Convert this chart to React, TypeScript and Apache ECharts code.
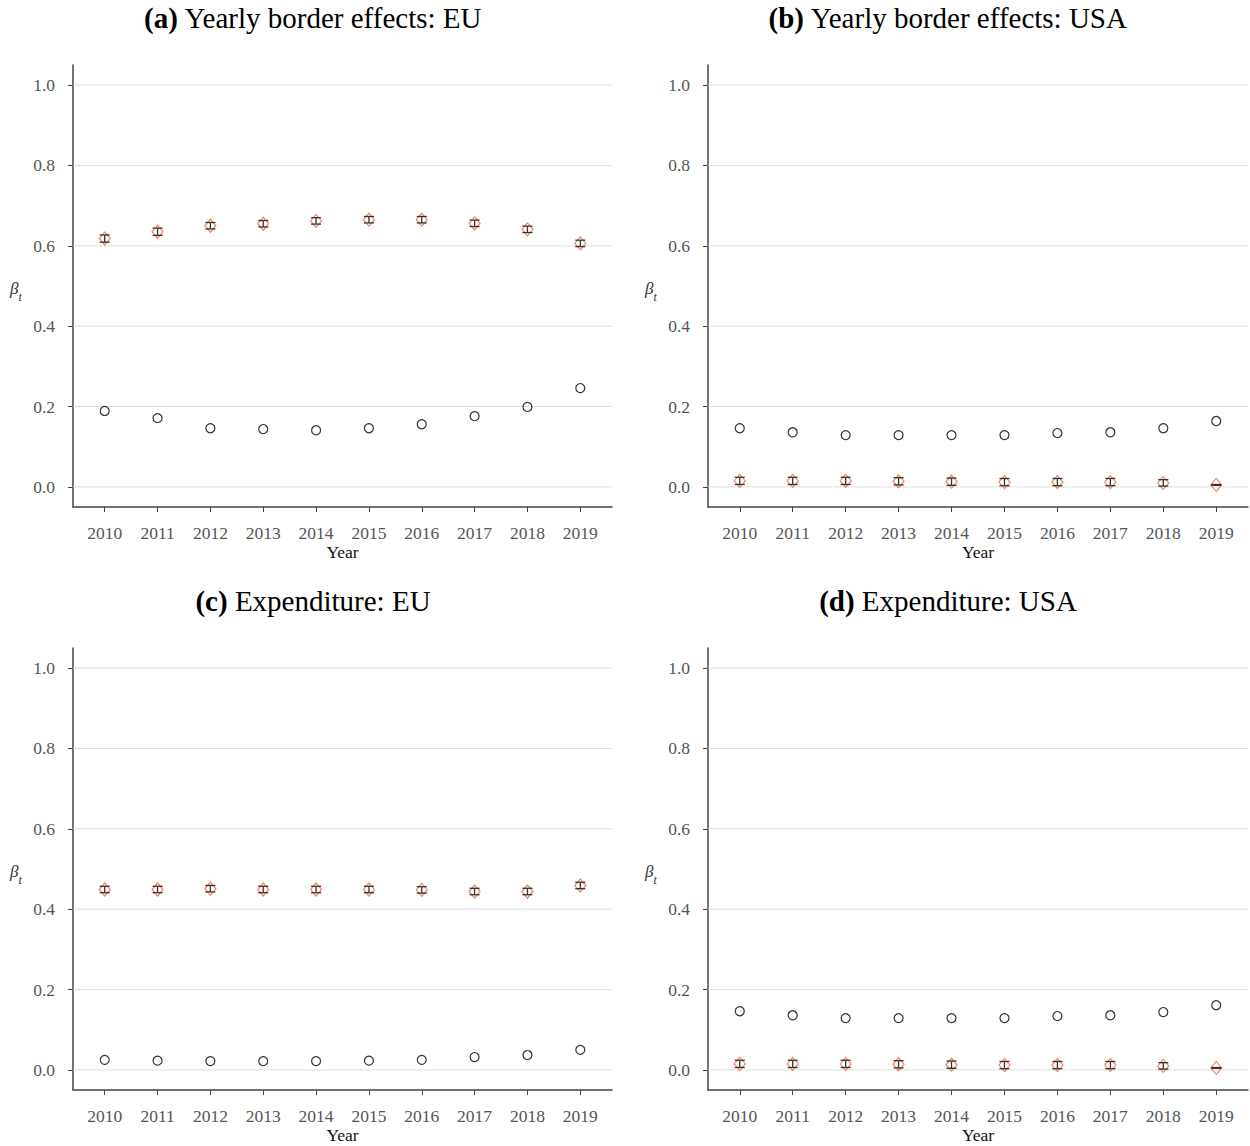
import React, { useEffect, useRef } from "react";
import * as echarts from "echarts";

const years = [2010, 2011, 2012, 2013, 2014, 2015, 2016, 2017, 2018, 2019];
const yTicks = [0, 0.2, 0.4, 0.6, 0.8, 1.0];

// (a) Yearly border effects: EU
const euBorderCircle = [0.189, 0.171, 0.146, 0.144, 0.141, 0.146, 0.156, 0.176, 0.199, 0.246];
const euBorderDiamond = [0.618, 0.635, 0.65, 0.655, 0.662, 0.665, 0.665, 0.656, 0.641, 0.606];
const euBorderErr = [0.009, 0.009, 0.008, 0.008, 0.008, 0.008, 0.008, 0.008, 0.008, 0.008];

// (b) Yearly border effects: USA
const usaBorderCircle = [0.146, 0.136, 0.129, 0.129, 0.129, 0.129, 0.134, 0.136, 0.146, 0.164];
const usaBorderDiamond = [0.015, 0.015, 0.015, 0.014, 0.013, 0.012, 0.012, 0.012, 0.01, 0.005];
const usaBorderErr = [0.009, 0.009, 0.009, 0.009, 0.009, 0.009, 0.009, 0.009, 0.008, 0.001];

// (c) Expenditure: EU
const euExpCircle = [0.025, 0.023, 0.022, 0.022, 0.022, 0.023, 0.025, 0.032, 0.037, 0.05];
const euExpDiamond = [0.449, 0.449, 0.451, 0.449, 0.449, 0.449, 0.448, 0.444, 0.444, 0.459];
const euExpErr = [0.008, 0.008, 0.008, 0.008, 0.008, 0.008, 0.008, 0.008, 0.008, 0.008];

// (d) Expenditure: USA
const usaExpCircle = [0.146, 0.136, 0.129, 0.129, 0.129, 0.129, 0.134, 0.136, 0.144, 0.161];
const usaExpDiamond = [0.015, 0.015, 0.015, 0.014, 0.013, 0.012, 0.012, 0.012, 0.01, 0.005];
const usaExpErr = [0.009, 0.009, 0.009, 0.009, 0.009, 0.009, 0.009, 0.009, 0.008, 0.001];

const panelTitles = [
  ["(a)", " Yearly border effects: EU"],
  ["(b)", " Yearly border effects: USA"],
  ["(c)", " Expenditure: EU"],
  ["(d)", " Expenditure: USA"],
];

const panelData = [
  [euBorderCircle, euBorderDiamond, euBorderErr],
  [usaBorderCircle, usaBorderDiamond, usaBorderErr],
  [euExpCircle, euExpDiamond, euExpErr],
  [usaExpCircle, usaExpDiamond, usaExpErr],
];

const FONT = "'Liberation Serif', 'Times New Roman', serif";

export default function App() {
  const ref = useRef<HTMLDivElement>(null);
  useEffect(() => {
    if (!ref.current) return;
    const chart = echarts.init(ref.current, null, { renderer: "svg" });

    const layout = [
      { left: 73, top: 65, width: 539, height: 442, tx: 313, ty: 18 },
      { left: 708, top: 65, width: 540, height: 442, tx: 948, ty: 18 },
      { left: 73, top: 648, width: 539, height: 442, tx: 313, ty: 601 },
      { left: 708, top: 648, width: 540, height: 442, tx: 948, ty: 601 },
    ];

    const grids: any[] = [];
    const xAxes: any[] = [];
    const yAxes: any[] = [];
    const series: any[] = [];
    const graphics: any[] = [];

    layout.forEach((g, i) => {
      grids.push({
        left: g.left,
        top: g.top,
        width: g.width,
        height: g.height,
        containLabel: false,
        outerBoundsMode: "none",
      });
      xAxes.push({
        gridIndex: i,
        type: "value",
        min: 2009.4,
        max: 2019.6,
        name: "Year",
        nameLocation: "middle",
        nameGap: 36,
        nameTextStyle: { fontFamily: FONT, fontSize: 17.5, color: "#111" },
        axisLine: { show: true, onZero: false, lineStyle: { color: "#444", width: 1.5 } },
        axisTick: { show: true, customValues: years, length: 5, lineStyle: { color: "#444", width: 1 } },
        axisLabel: {
          customValues: years,
          margin: 17,
          fontFamily: FONT,
          fontSize: 17.5,
          color: "#555",
          formatter: (v: number) => String(Math.round(v)),
        },
        splitLine: { show: false },
      });
      yAxes.push({
        gridIndex: i,
        type: "value",
        min: -0.05,
        max: 1.05,
        axisLine: { show: true, onZero: false, lineStyle: { color: "#444", width: 1.5 } },
        axisTick: { show: true, customValues: yTicks, length: 5, lineStyle: { color: "#444", width: 1 } },
        axisLabel: {
          customValues: yTicks,
          margin: 18,
          fontFamily: FONT,
          fontSize: 17.5,
          color: "#555",
          formatter: (v: number) => v.toFixed(1),
        },
        splitLine: { show: false },
      });

      const [circ, dia, err] = panelData[i];

      series.push({
        type: "custom",
        xAxisIndex: i,
        yAxisIndex: i,
        z: 1,
        silent: true,
        data: yTicks.map((v) => [2015, v]),
        encode: { x: 0, y: 1 },
        renderItem: (params: any, api: any) => {
          const cs = params.coordSys;
          const p = api.coord([2015, api.value(1)]);
          return {
            type: "line",
            shape: { x1: cs.x, y1: p[1], x2: cs.x + cs.width, y2: p[1] },
            style: { stroke: "#dedede", lineWidth: 1 },
          };
        },
      });

      series.push({
        type: "scatter",
        xAxisIndex: i,
        yAxisIndex: i,
        z: 3,
        silent: true,
        symbol: "circle",
        symbolSize: 9,
        itemStyle: { color: "rgba(0,0,0,0)", borderColor: "#000", borderWidth: 1.2 },
        data: years.map((y, k) => [y, circ[k]]),
      });

      series.push({
        type: "scatter",
        xAxisIndex: i,
        yAxisIndex: i,
        z: 3,
        silent: true,
        symbol: "diamond",
        symbolSize: [11, 13],
        itemStyle: { color: "rgba(0,0,0,0)", borderColor: "#f4623a", borderWidth: 1.2 },
        data: years.map((y, k) => [y, dia[k]]),
      });

      series.push({
        type: "custom",
        xAxisIndex: i,
        yAxisIndex: i,
        z: 4,
        silent: true,
        data: years.map((y, k) => [y, dia[k] - err[k], dia[k] + err[k]]),
        encode: { x: 0, y: [1, 2] },
        renderItem: (params: any, api: any) => {
          const x = api.value(0);
          const lo = api.coord([x, api.value(1)]);
          const hi = api.coord([x, api.value(2)]);
          const hw = 5;
          const style = { stroke: "#333", lineWidth: 1.3 };
          return {
            type: "group",
            children: [
              { type: "line", shape: { x1: lo[0], y1: lo[1], x2: hi[0], y2: hi[1] }, style },
              { type: "line", shape: { x1: lo[0] - hw, y1: lo[1], x2: lo[0] + hw, y2: lo[1] }, style },
              { type: "line", shape: { x1: hi[0] - hw, y1: hi[1], x2: hi[0] + hw, y2: hi[1] }, style },
            ],
          };
        },
      });

      graphics.push({
        type: "text",
        x: g.tx,
        y: g.ty,
        style: {
          text: `{b|${panelTitles[i][0]}}{n|${panelTitles[i][1]}}`,
          align: "center",
          verticalAlign: "middle",
          rich: {
            b: { fontFamily: FONT, fontSize: 29, fontWeight: "bold", fill: "#000" },
            n: { fontFamily: FONT, fontSize: 29, fill: "#000" },
          },
        },
      });

      graphics.push({
        type: "text",
        x: g.left - 63,
        y: g.top + 222,
        style: {
          text: "{b|β}{s|t}",
          verticalAlign: "middle",
          rich: {
            b: { fontFamily: FONT, fontSize: 17, fontStyle: "italic", fill: "#333", lineHeight: 20, verticalAlign: "bottom" },
            s: { fontFamily: FONT, fontSize: 12, fontStyle: "italic", fill: "#333", lineHeight: 20, verticalAlign: "bottom", padding: [0, 0, -6, 0] },
          },
        },
      });
    });

    chart.setOption({
      animation: false,
      backgroundColor: "#fff",
      grid: grids,
      xAxis: xAxes,
      yAxis: yAxes,
      series,
      graphic: graphics,
    });
    return () => chart.dispose();
  }, []);

  return (
    <div
      ref={ref}
      style={{ position: "absolute", left: 0, top: 0, width: 1250, height: 1146 }}
    />
  );
}
